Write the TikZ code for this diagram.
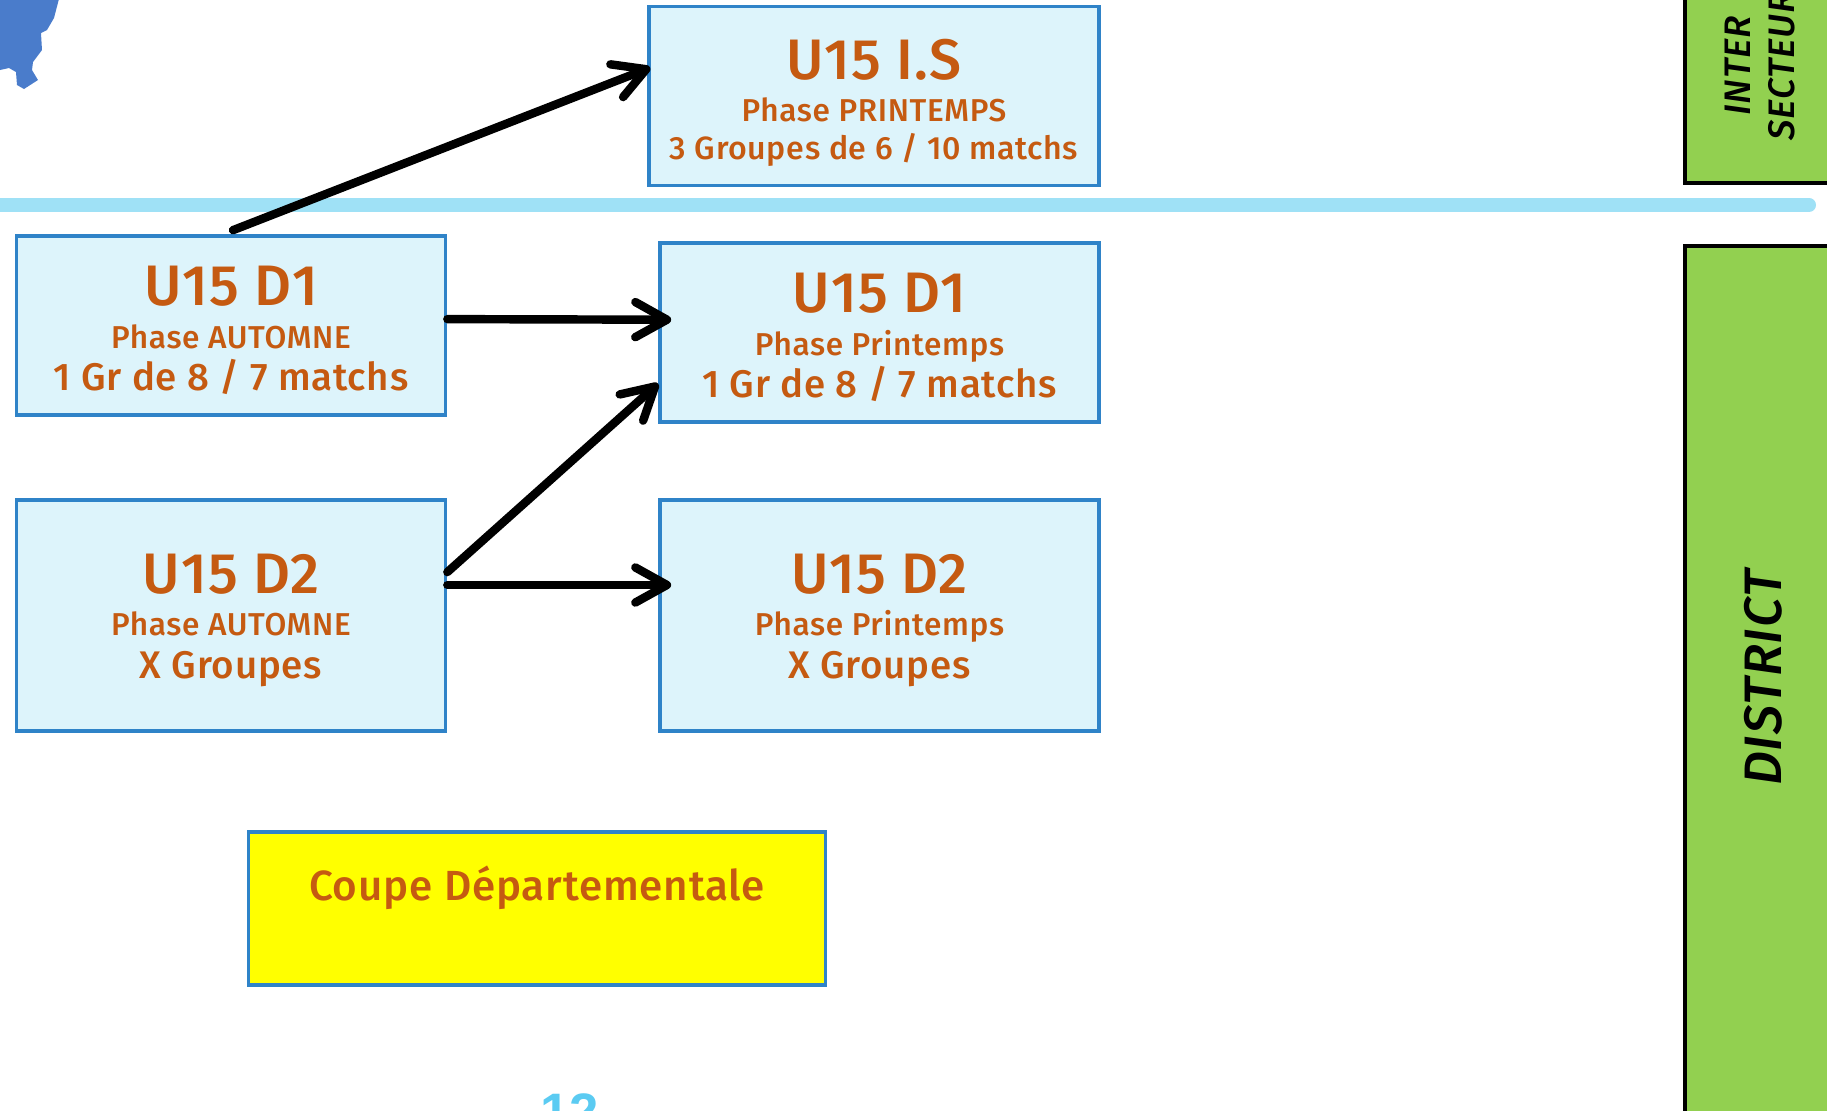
\documentclass[tikz,border=0pt]{standalone}
\usepackage{fontspec}
\setmainfont{Fira Sans}[BoldFont={Fira Sans Medium},BoldItalicFont={Fira Sans Medium Italic},LetterSpace=2]
\newfontfamily\numfont{Liberation Sans}
\usetikzlibrary{calc,arrows.meta}
\definecolor{boxfill}{HTML}{DDF4FB}
\definecolor{boxline}{HTML}{2F83C8}
\definecolor{labeltext}{HTML}{C55A11}
\definecolor{sepline}{HTML}{9FE1F6}
\definecolor{sectorfill}{HTML}{92D050}
\definecolor{mapblue}{HTML}{4A7CCB}
\definecolor{pagenum}{HTML}{5BCBF2}
\definecolor{cupfill}{HTML}{FFFF00}
\tikzset{
  unitbox/.style={draw=boxline,fill=boxfill,line width=2.1pt,text=labeltext,align=center,inner sep=0pt,font=\bfseries\fontsize{20}{24}\selectfont},
  cupbox/.style={unitbox,fill=cupfill},
  link/.style={line width=4.8pt,line cap=round,-{Straight Barb[length=18pt,width=20pt,round]}},
  sectorbox/.style={draw=black,fill=sectorfill,line width=2.4pt},
  sectorlabel/.style={rotate=90,align=center,font=\itshape\bfseries\fontsize{21}{25}\selectfont}
}
\newcommand\tta[1]{{\fontsize{32.5}{24}\selectfont\rule{0pt}{28pt}#1}}
\newcommand\ttb[1]{{\fontsize{18}{24}\selectfont #1}}
\newcommand\ttc[1]{{\fontsize{21.9}{24}\selectfont #1}}
\begin{document}
\begin{tikzpicture}[x=0.02cm,y=-0.02cm]
\clip (0,0) rectangle (1827,1110);
% map corner
\fill[mapblue] (60,-5)--(54,18)--(47,30)--(41,33)--(42,50)--(33,62)--(32,70)--(38,80)--(24,89)--(17,85)--(16,72)--(9,68)--(0,70)--(0,-5)--cycle;
% separator
\draw[sepline,line width=8pt,line cap=round] (-10,205)--(1809,205);
% units
\node[unitbox,minimum width=450*0.02cm,minimum height=179*0.02cm] (isp) at (874,96) {\tta{U15 I.S}\rule{0pt}{31pt}\\ \ttb{Phase PRINTEMPS}\\[-2.5pt] {\fontsize{18.3}{24}\selectfont 3 Groupes de 6 / 10 matchs}};
\node[unitbox,minimum width=429*0.02cm,minimum height=179*0.02cm] (d1a) at (231,325.5) {\tta{U15 D1}\\ \ttb{Phase AUTOMNE}\\ \ttc{1 Gr de 8 / 7 matchs}};
\node[unitbox,minimum width=429*0.02cm,minimum height=231*0.02cm] (d2a) at (231,615.5) {\tta{U15 D2}\\ \ttb{Phase AUTOMNE}\\ \ttc{X Groupes}};
\node[unitbox,minimum width=439*0.02cm,minimum height=179*0.02cm] (d1p) at (879.5,332.5) {\tta{U15 D1}\\ \ttb{Phase Printemps}\\ \ttc{1 Gr de 8 / 7 matchs}};
\node[unitbox,minimum width=439*0.02cm,minimum height=231*0.02cm] (d2p) at (879.5,615.5) {\tta{U15 D2}\\ \ttb{Phase Printemps}\\ \ttc{X Groupes}};
\node[cupbox,minimum width=577*0.02cm,minimum height=153*0.02cm] (cup) at (537,908.5) {\fontsize{24}{26}\selectfont Coupe Départementale\\[5pt]~};
% links
\draw[link] ($(d1a.north)+(2,-4)$)--($(isp.north west)!.345!(isp.south west)+(3,0)$);
\draw[link] ($(d1a.north east)!.465!(d1a.south east)$)--($(d1p.north west)!.43!(d1p.south west)+(13,0)$);
\draw[link] ($(d2a.north east)!.315!(d2a.south east)$)--($(d1p.north west)!.78!(d1p.south west)$);
\draw[link] ($(d2a.north east)!.37!(d2a.south east)$)--($(d2p.north west)!.37!(d2p.south west)+(13,0)$);
% levels
\draw[sectorbox] (1685,-30) rectangle (1860,183);
\node[sectorlabel] (inter) at (1760,66) {INTER\\ SECTEUR};
\draw[sectorbox] (1685,246) rectangle (1860,1140);
\node[sectorlabel,font=\itshape\bfseries\fontsize{30}{32}\selectfont] (district) at (1763,678) {DISTRICT};
% page number
\node[text=pagenum,font=\numfont\bfseries\fontsize{30}{34}\selectfont,anchor=north] (pageno) at (570,1087) {12};
\end{tikzpicture}
\end{document}
